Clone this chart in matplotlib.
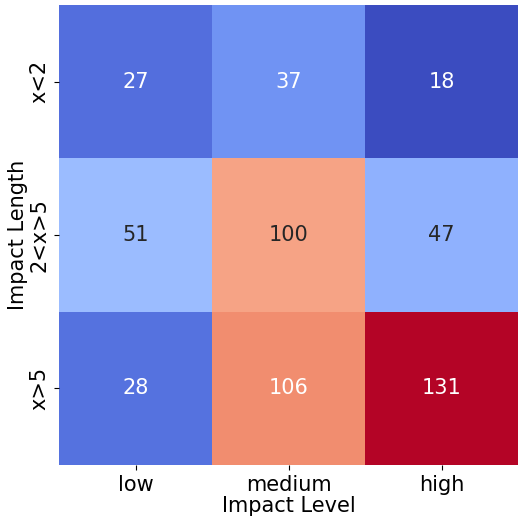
import matplotlib
matplotlib.use("Agg")
import matplotlib.pyplot as plt
import seaborn as sns
import pandas as pd

# Impact counts by length (rows) and level (columns)
lengths = ["x<2", "2<x>5", "x>5"]
levels = ["low", "medium", "high"]
low = [27, 51, 28]
medium = [37, 100, 106]
high = [18, 47, 131]

df = pd.DataFrame({"low": low, "medium": medium, "high": high}, index=lengths)[levels]

fig, ax = plt.subplots(figsize=(5.18, 5.17), dpi=100)
plt.subplots_adjust(left=0.114, right=1.0, top=0.99, bottom=0.101)

sns.heatmap(df, annot=True, fmt="d", cmap="coolwarm", cbar=False,
            annot_kws={"fontsize": 15}, ax=ax)

ax.set_xlabel("Impact Level", fontsize=15, labelpad=1)
ax.set_ylabel("Impact Length", fontsize=15, labelpad=1)
ax.tick_params(axis="both", labelsize=15)
plt.setp(ax.get_yticklabels(), rotation=90, va="center")

fig.savefig("out.png", dpi=100)
